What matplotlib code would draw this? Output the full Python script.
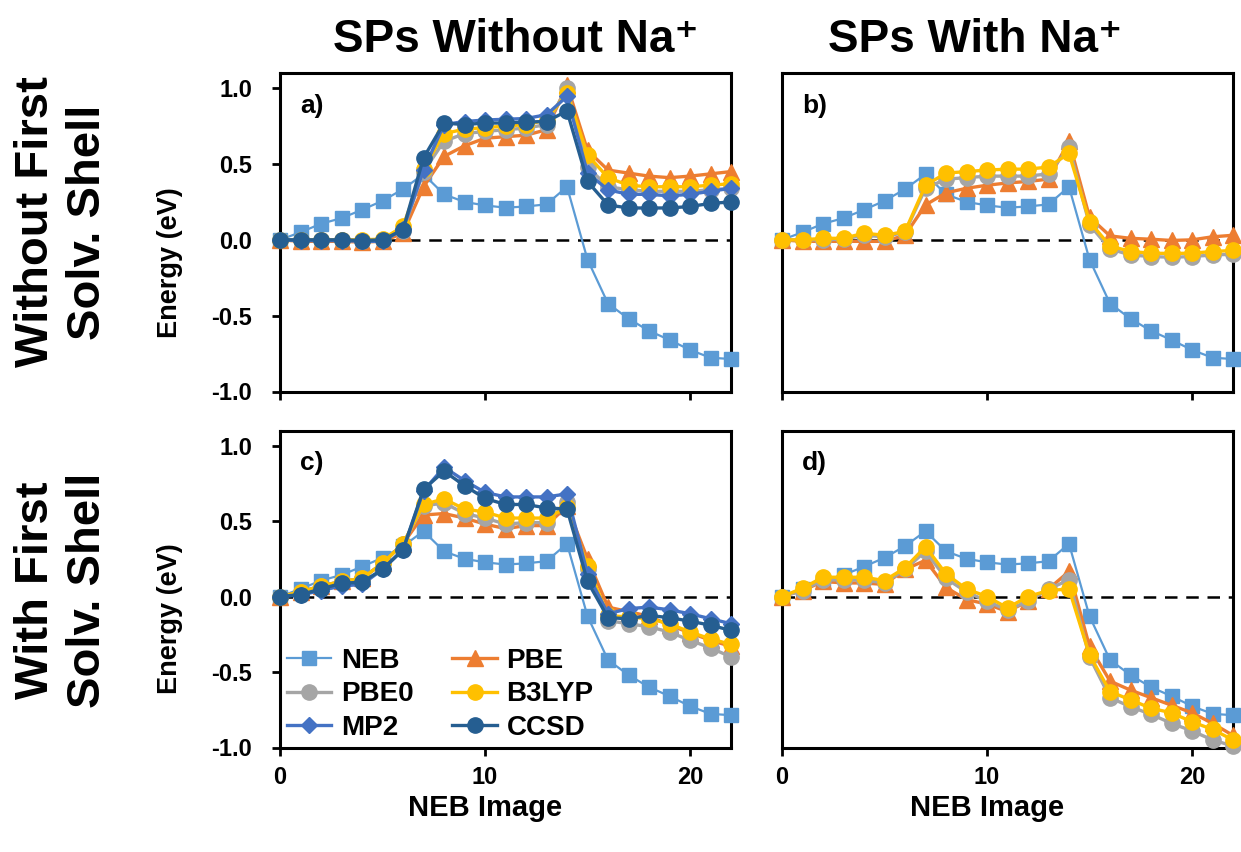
import matplotlib.pyplot as plt
import numpy as np

plt.rcParams['font.family'] = ['Liberation Sans', 'DejaVu Sans']
plt.rcParams['font.weight'] = 'bold'

images = list(range(23))

# NEB path energy (same in every panel)
neb = [0.0, 0.05, 0.106, 0.143, 0.198, 0.257, 0.334, 0.433, 0.30, 0.25, 0.227, 0.212,
       0.22, 0.234, 0.35, -0.13, -0.42, -0.52, -0.60, -0.66, -0.726, -0.777, -0.786]

# a) without first shell, SPs without Na+
pbe_a = [0.0, -0.01, -0.01, -0.01, -0.015, -0.01, 0.044, 0.35, 0.55, 0.62, 0.67, 0.68,
         0.69, 0.726, 1.02, 0.59, 0.46, 0.44, 0.42, 0.41, 0.42, 0.435, 0.45]
pbe0_a = [0.0, 0.0, 0.0, 0.0, -0.005, 0.0, 0.06, 0.45, 0.65, 0.70, 0.715, 0.726,
          0.737, 0.76, 1.0, 0.48, 0.35, 0.33, 0.32, 0.32, 0.32, 0.33, 0.34]
b3lyp_a = [0.0, 0.0, 0.0, 0.0, 0.0, 0.005, 0.088, 0.47, 0.70, 0.73, 0.74, 0.75,
           0.76, 0.79, 0.97, 0.56, 0.41, 0.36, 0.35, 0.35, 0.35, 0.36, 0.37]
mp2_a = [0.0, -0.005, -0.005, -0.005, -0.01, -0.01, 0.07, 0.46, 0.76, 0.78, 0.79, 0.795,
         0.80, 0.825, 0.946, 0.44, 0.33, 0.30, 0.30, 0.29, 0.30, 0.32, 0.34]
ccsd_a = [0.0, 0.0, 0.0, 0.0, -0.005, 0.0, 0.066, 0.54, 0.77, 0.76, 0.77, 0.77,
          0.777, 0.78, 0.85, 0.385, 0.23, 0.21, 0.21, 0.21, 0.22, 0.24, 0.25]

# b) without first shell, SPs with Na+
pbe_b = [0.0, -0.01, -0.01, -0.01, -0.01, -0.01, 0.03, 0.23, 0.31, 0.34, 0.36, 0.375,
         0.385, 0.40, 0.65, 0.15, 0.026, 0.01, 0.004, -0.004, 0.0, 0.02, 0.03]
pbe0_b = [0.0, 0.0, 0.0, 0.005, 0.03, 0.02, 0.05, 0.34, 0.40, 0.41, 0.42, 0.42,
          0.42, 0.435, 0.61, 0.10, -0.06, -0.10, -0.11, -0.115, -0.11, -0.10, -0.095]
b3lyp_b = [0.0, 0.0, 0.01, 0.01, 0.044, 0.03, 0.055, 0.36, 0.44, 0.45, 0.46, 0.466,
           0.466, 0.48, 0.57, 0.12, -0.04, -0.077, -0.088, -0.09, -0.088, -0.077, -0.07]

# c) with first shell, SPs without Na+
pbe_c = [0.0, 0.03, 0.07, 0.10, 0.12, 0.22, 0.35, 0.54, 0.55, 0.52, 0.48, 0.45,
         0.47, 0.47, 0.60, 0.25, -0.07, -0.10, -0.13, -0.19, -0.24, -0.29, -0.33]
pbe0_c = [0.0, 0.03, 0.07, 0.10, 0.12, 0.22, 0.35, 0.60, 0.62, 0.55, 0.52, 0.48,
          0.49, 0.49, 0.625, 0.18, -0.16, -0.18, -0.20, -0.235, -0.29, -0.34, -0.40]
b3lyp_c = [0.0, 0.03, 0.07, 0.10, 0.12, 0.22, 0.35, 0.61, 0.647, 0.58, 0.56, 0.52,
           0.52, 0.52, 0.59, 0.20, -0.125, -0.136, -0.147, -0.18, -0.235, -0.28, -0.317]
mp2_c = [0.0, 0.01, 0.04, 0.07, 0.08, 0.18, 0.31, 0.70, 0.857, 0.768, 0.69, 0.66,
         0.66, 0.66, 0.68, 0.15, -0.114, -0.08, -0.07, -0.088, -0.114, -0.147, -0.18]
ccsd_c = [0.0, 0.013, 0.05, 0.088, 0.095, 0.18, 0.31, 0.71, 0.83, 0.735, 0.65, 0.61,
          0.61, 0.587, 0.58, 0.10, -0.14, -0.147, -0.125, -0.14, -0.163, -0.19, -0.224]

# d) with first shell, SPs with Na+
pbe_d = [0.0, 0.04, 0.10, 0.09, 0.09, 0.08, 0.18, 0.24, 0.06, -0.02, -0.05, -0.10,
         -0.03, 0.05, 0.166, -0.33, -0.56, -0.62, -0.67, -0.72, -0.77, -0.84, -0.92]
pbe0_d = [0.0, 0.04, 0.11, 0.11, 0.11, 0.09, 0.18, 0.30, 0.12, 0.03, -0.03, -0.09,
          -0.03, 0.05, 0.11, -0.40, -0.67, -0.73, -0.78, -0.84, -0.89, -0.95, -0.99]
b3lyp_d = [0.0, 0.055, 0.128, 0.128, 0.128, 0.106, 0.19, 0.33, 0.15, 0.05, 0.0, -0.075,
           0.0, 0.04, 0.05, -0.386, -0.63, -0.684, -0.74, -0.77, -0.83, -0.88, -0.95]

styles = {
    'NEB':   dict(color='#5B9BD5', marker='s', ms=10.5, lw=1.6),
    'PBE':   dict(color='#ED7D31', marker='^', ms=12, lw=2.4),
    'PBE0':  dict(color='#A5A5A5', marker='o', ms=11, lw=2.4),
    'B3LYP': dict(color='#FFC000', marker='o', ms=11, lw=2.4),
    'MP2':   dict(color='#4472C4', marker='D', ms=8.5, lw=2.4),
    'CCSD':  dict(color='#255E91', marker='o', ms=11, lw=2.4),
}

panels = [
    ('a)', {'NEB': neb, 'PBE': pbe_a, 'PBE0': pbe0_a, 'B3LYP': b3lyp_a, 'MP2': mp2_a, 'CCSD': ccsd_a}),
    ('b)', {'NEB': neb, 'PBE': pbe_b, 'PBE0': pbe0_b, 'B3LYP': b3lyp_b}),
    ('c)', {'NEB': neb, 'PBE': pbe_c, 'PBE0': pbe0_c, 'B3LYP': b3lyp_c, 'MP2': mp2_c, 'CCSD': ccsd_c}),
    ('d)', {'NEB': neb, 'PBE': pbe_d, 'PBE0': pbe0_d, 'B3LYP': b3lyp_d}),
]

W, H = 1241, 852
fig = plt.figure(figsize=(W / 100, H / 100), dpi=100)

# axes rectangles in pixels: left, top, right, bottom
boxes = [(280, 73, 731, 391.5), (782, 73, 1233, 391.5),
         (280, 430.5, 731, 747.5), (782, 430.5, 1233, 747.5)]

axes = []
for i, ((tag, series), (l, t, r, b)) in enumerate(zip(panels, boxes)):
    ax = fig.add_axes([l / W, 1 - b / H, (r - l) / W, (b - t) / H])
    ax.axhline(0, color='black', ls=(0, (5, 3.5)), lw=1.8, zorder=1)
    for name, vals in series.items():
        st = styles[name]
        ax.plot(images, vals, color=st['color'], marker=st['marker'], ms=st['ms'],
                lw=st['lw'], label=name, zorder=3, clip_on=False)
    ax.set_xlim(0, 22)
    ax.set_ylim(-1.0, 1.1)
    ax.set_xticks([0, 10, 20])
    ax.set_yticks([-1.0, -0.5, 0.0, 0.5, 1.0])
    ax.yaxis.set_major_formatter(plt.FormatStrFormatter('%.1f'))
    for sp in ax.spines.values():
        sp.set_linewidth(2.2)
    ax.tick_params(direction='out', length=6, width=2, labelsize=17)
    ax.tick_params(axis='y', pad=14)
    ax.tick_params(axis='x', pad=7)
    for lab in ax.get_xticklabels() + ax.get_yticklabels():
        lab.set_fontweight('bold')
    if i % 2 == 1:
        ax.tick_params(axis='y', left=False, labelleft=False)
    else:
        ax.set_ylabel('Energy (eV)', fontsize=19.5, fontweight='bold', va='center')
        ax.yaxis.set_label_coords((170 - l) / (r - l), 0.405)
    if i >= 2:
        ax.set_xlabel('NEB Image', fontsize=21, fontweight='bold', va='center')
        ax.xaxis.set_label_coords(0.455, (b - 808) / (b - t))
    else:
        ax.tick_params(axis='x', labelbottom=False)
    ax.text(0.045, 0.935, tag, transform=ax.transAxes, fontsize=19, fontweight='bold',
            va='top', ha='left')
    axes.append(ax)

# legend filled row by row like the original
hd, lb = axes[2].get_legend_handles_labels()
order = [0, 2, 4, 1, 3, 5]
leg = axes[2].legend([hd[k] for k in order], [lb[k] for k in order], ncol=2,
                     loc='lower left', bbox_to_anchor=(-0.01, -0.015), frameon=False,
                     fontsize=20, handlelength=1.6, handletextpad=0.35, columnspacing=1.4,
                     labelspacing=0.28, numpoints=1, borderaxespad=0.0)
for txt in leg.get_texts():
    txt.set_fontweight('bold')

fig.text(516 / W, 1 - 40 / H, 'SPs Without Na\u207a', fontsize=33, fontweight='bold',
         ha='center', va='center')
fig.text(975 / W, 1 - 40 / H, 'SPs With Na\u207a', fontsize=33, fontweight='bold',
         ha='center', va='center')
fig.text(62 / W, 1 - 222 / H, 'Without First\nSolv. Shell', fontsize=34, fontweight='bold',
         ha='center', va='center', rotation=90, linespacing=1.25)
fig.text(62 / W, 1 - 590 / H, 'With First\nSolv. Shell', fontsize=34, fontweight='bold',
         ha='center', va='center', rotation=90, linespacing=1.25)

fig.savefig('out.png', dpi=100)
